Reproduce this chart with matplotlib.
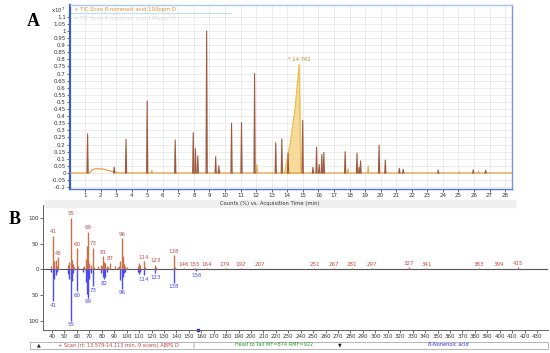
import matplotlib.pyplot as plt
import numpy as np
from matplotlib.patches import Rectangle

# ---- panel A: TIC chromatogram (counts x10^7) ----
tic_times = [1.17, 2.88, 3.64, 5.0, 6.8, 7.96, 8.1, 8.25, 8.82, 9.4, 9.6,
             10.42, 11.06, 11.9, 13.26, 13.65, 14.05, 14.99, 15.65, 15.88,
             16.05, 16.22, 16.35, 17.72, 18.48, 18.62, 18.71, 19.9, 20.3,
             21.2, 21.45, 23.7, 25.95, 26.75]
tic_heights = [0.275, 0.04, 0.237, 0.507, 0.232, 0.284, 0.17, 0.12, 1.0, 0.115, 0.05,
               0.35, 0.355, 0.70, 0.213, 0.24, 0.14, 0.37, 0.04, 0.18,
               0.06, 0.13, 0.145, 0.15, 0.14, 0.04, 0.085, 0.197, 0.09,
               0.033, 0.025, 0.02, 0.022, 0.02]

minor_times = [12.05, 17.9, 19.2, 25.05, 26.3, 5.3, 9.65]
minor_heights = [0.06, 0.03, 0.05, 0.01, 0.012, 0.02, 0.02]

main_peak_t = [13.82, 14.2, 14.5, 14.762, 14.86]
main_peak_h = [0.0, 0.22, 0.46, 0.765, 0.0]

baseline_t = [0.1, 1.3, 1.5, 1.8, 2.2, 2.6, 3.0, 3.3, 28.4]
baseline_h = [0.0, 0.0, 0.025, 0.03, 0.027, 0.015, 0.003, 0.0, 0.0]

# ---- panel B: head-to-tail mass spectra (relative %) ----
scan_mz = [39, 41, 42, 43, 44, 45, 53, 54, 55, 56, 57, 58, 60, 61, 65, 66, 67, 68,
           69, 70, 71, 73, 74, 77, 79, 80, 81, 82, 83, 84, 85, 87, 91, 93, 94, 95,
           96, 97, 98, 99, 100, 109, 110, 111, 114, 115, 123, 124, 138, 139,
           146, 155, 164, 179, 192, 207, 251, 267, 281, 297, 327, 341, 383, 399, 415]
scan_int = [6, 65, 16, 18, 6, 23, 8, 15, 100, 18, 10, 5, 41, 6, 5, 6, 20, 45,
            73, 12, 8, 42, 5, 6, 8, 6, 25, 14, 12, 6, 5, 13, 6, 5, 6, 16,
            60, 26, 10, 6, 5, 6, 12, 8, 16, 5, 9, 4, 27, 5,
            2, 2, 2, 2, 2, 2, 2, 2, 2, 2, 4, 2, 2, 2, 4]
scan_labels = [41, 45, 55, 60, 69, 73, 81, 87, 96, 114, 123, 138, 146, 155, 164,
               179, 192, 207, 251, 267, 281, 297, 327, 341, 383, 399, 415]

lib_mz = [39, 41, 42, 43, 44, 53, 54, 55, 56, 57, 60, 65, 67, 68, 69, 70, 71, 73,
          79, 81, 82, 83, 84, 95, 96, 97, 98, 99, 109, 110, 111, 114, 123, 138, 156]
lib_int = [6, 62, 18, 12, 5, 10, 18, 100, 22, 8, 42, 5, 25, 48, 55, 18, 8, 33,
           8, 14, 19, 14, 6, 20, 38, 14, 8, 5, 6, 9, 5, 12, 8, 26, 4]
lib_labels = [41, 55, 60, 69, 73, 82, 96, 114, 123, 138, 156]

brown = "#9c5a40"
orange = "#e8a040"
red_lab = "#c0504d"
blue = "#4b4bf0"

fig = plt.figure(figsize=(5.5, 3.53), dpi=100)
plt.rcParams['font.family'] = ['DejaVu Sans']

# ================= Panel A =================
axA = fig.add_axes([70 / 550, 1 - 189 / 353, 442 / 550, 184 / 353])
axA.set_xlim(0.04, 28.44)
axA.set_ylim(-0.113, 1.183)
axA.set_xticks(range(1, 29))
axA.set_xticklabels([str(i) for i in range(1, 29)])
yt = np.round(np.arange(-0.1, 1.1001, 0.05), 2)
axA.set_yticks(yt)
axA.set_yticklabels(["%g" % v for v in yt])
axA.tick_params(labelsize=4, length=2, width=0.5, pad=1, colors="#333333")
axA.grid(True, color="#e4e4e4", lw=0.5)
axA.set_axisbelow(True)
for s, c, w in [("left", "#3a5fb8", 1.6), ("bottom", "#5a78c8", 1.0),
                ("right", "#8094d8", 1.0), ("top", "#a8c8f0", 1.0)]:
    axA.spines[s].set_color(c)
    axA.spines[s].set_linewidth(w)

axA.plot(baseline_t, baseline_h, color=orange, lw=0.9, zorder=3)
axA.fill_between(main_peak_t, main_peak_h, color="#f6d58a", alpha=0.85, zorder=2)
axA.plot(main_peak_t, main_peak_h, color="#e6bc50", lw=0.7, zorder=3)
axA.text(main_peak_t[3], main_peak_h[3] + 0.015, "* 14.762", fontsize=3.8,
         color="#c89030", ha="center", va="bottom")
for t, h in zip(minor_times, minor_heights):
    axA.plot([t - 0.04, t, t + 0.04], [0, h, 0], color="#d8a848", lw=0.7, zorder=3)
for t, h in zip(tic_times, tic_heights):
    axA.plot([t - 0.04, t, t + 0.04], [0, h, 0], color=brown, lw=0.8, zorder=4)

axA.text(0.3, 1.148, "+ TIC Scan 8-nonenoic acid 100ppm.D", fontsize=3.8,
         color="#e09030", va="center")
axA.plot([0.04, 10.3], [1.128, 1.128], color="#a8dcf0", lw=0.6)
axA.text(0.3, 1.09, "+ TIC Scan 8-nonenoic acid 100ppm.D", fontsize=3.8,
         color="#dcdcdc", va="center")
fig.text(58 / 550, 1 - 10 / 353, r"x10$^{7}$", fontsize=4, color="#333333",
         ha="center", va="center")

# x label band
fig.patches.append(Rectangle((45 / 550, 1 - 207 / 353), 470 / 550, 7 / 353,
                             transform=fig.transFigure, color="#efefef", zorder=0))
fig.text(270 / 550, 1 - 203.5 / 353, "Counts (%) vs. Acquisition Time (min)",
         fontsize=3.8, color="#333333", ha="center", va="center")

# ================= Panel B =================
axB = fig.add_axes([43 / 550, 1 - 330 / 353, 505 / 550, 125 / 353])
axB.set_xlim(32.76, 438.8)
axB.set_ylim(-117.6, 124.6)
axB.set_xticks(range(40, 431, 10))
axB.set_yticks([-100, -50, 0, 50, 100])
axB.set_yticklabels(["100", "50", "0", "50", "100"])
axB.tick_params(labelsize=4, length=2, width=0.5, pad=1, colors="#333333")
for s in ["top", "right"]:
    axB.spines[s].set_visible(False)
for s in ["left", "bottom"]:
    axB.spines[s].set_color("#666666")
    axB.spines[s].set_linewidth(0.7)

axB.axhline(0, color="#555555", lw=0.8, zorder=1)
axB.vlines(scan_mz, 0, scan_int, color="#c8704a", lw=1.0, zorder=2)
axB.vlines(lib_mz, 0, [-v for v in lib_int], color=blue, lw=1.0, zorder=2)
for m, v in zip(scan_mz, scan_int):
    if m in scan_labels:
        axB.text(m, v + 3, str(m), fontsize=4, color=red_lab, ha="center", va="bottom")
for m, v in zip(lib_mz, lib_int):
    if m in lib_labels:
        axB.text(m, -v - 3, str(m), fontsize=4, color=blue, ha="center", va="top")
axB.plot([157], [-117.6], marker="s", ms=1.6, color="#2020c0", clip_on=False)

# status bar under panel B
fig.patches.append(Rectangle((30 / 550, 1 - 349 / 353), 518 / 550, 7 / 353,
                             transform=fig.transFigure, fill=False, ec="#999999", lw=0.5))
fig.text(37 / 550, 1 - 345 / 353, "\u25b2", fontsize=3.5, color="#222222", va="center")
fig.text(58 / 550, 1 - 345 / 353, "+ Scan (rt: 13.579-14.113 min, 9 scans) ABPS.D",
         fontsize=3.6, color="#d04040", va="center")
fig.text(192 / 550, 1 - 345 / 353, "|", fontsize=4, color="#666666", va="center")
fig.text(274 / 550, 1 - 345 / 353, "Head to Tail MF=874 RMF=922",
         fontsize=3.6, color="#2a9a2a", ha="center", va="center")
fig.text(340 / 550, 1 - 345 / 353, "\u25bc", fontsize=3.5, color="#222222",
         ha="center", va="center")
fig.text(448 / 550, 1 - 345 / 353, "8-Nonenoic acid", fontsize=3.6, color="#3030e0",
         ha="center", va="center")

# panel letters
fig.text(33 / 550, 1 - 22 / 353, "A", fontsize=13, fontweight="bold",
         family="Liberation Serif", ha="center", va="center")
fig.text(15 / 550, 1 - 220 / 353, "B", fontsize=13, fontweight="bold",
         family="Liberation Serif", ha="center", va="center")

fig.savefig("out.png", dpi=100)
